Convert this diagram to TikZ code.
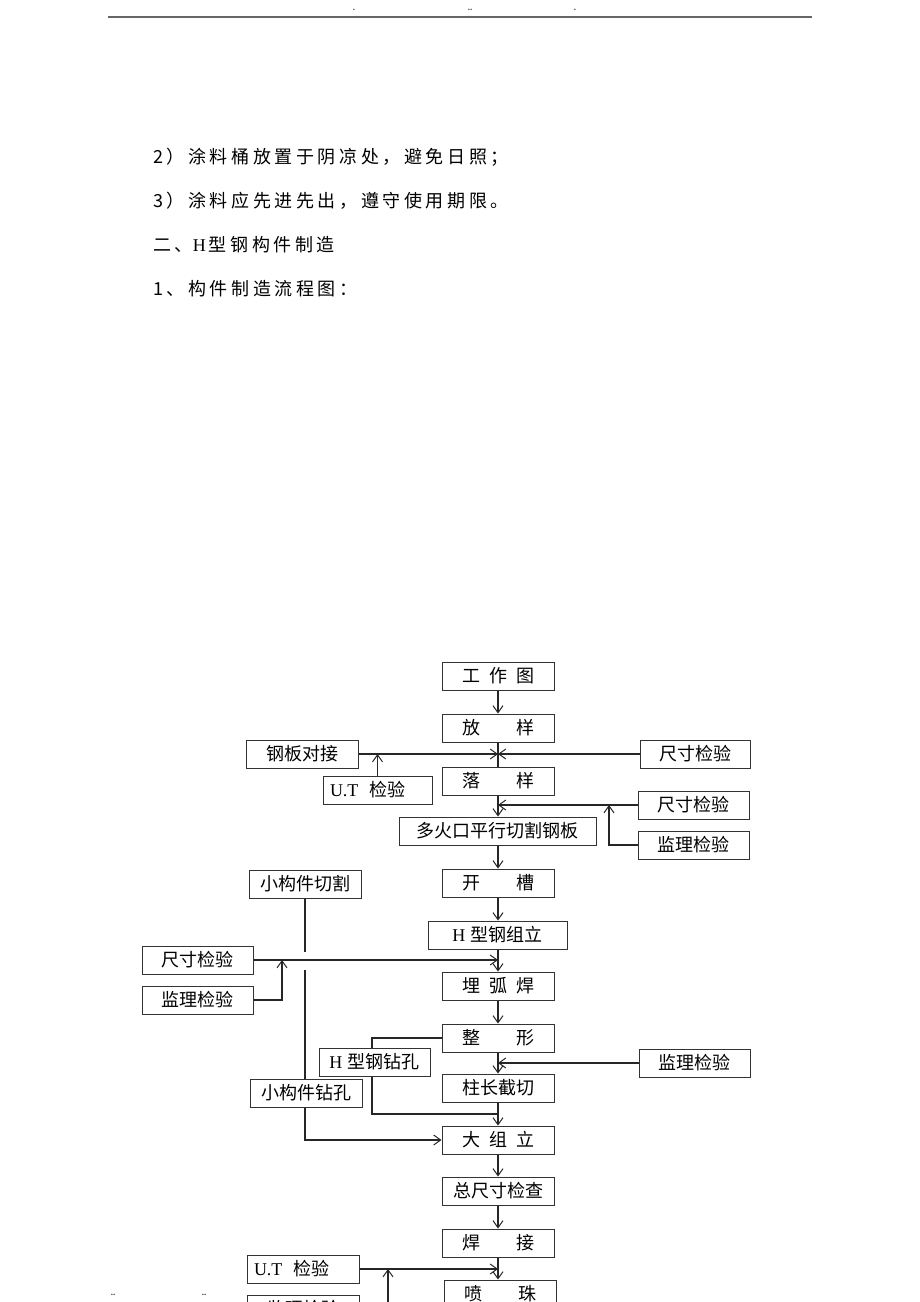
\documentclass[tikz,border=0pt]{standalone}
\usepackage{fontspec}
\setmainfont{Liberation Serif}
\newfontfamily\cjk{Noto Sans CJK SC}
\newfontfamily\cjkls[LetterSpace=20]{Noto Sans CJK SC}
\usetikzlibrary{arrows.meta,backgrounds}
\tikzset{
  box/.style={draw=black!80, line width=1pt, fill=white, inner sep=0pt,
    minimum height=28pt, font=\cjk\fontsize{18}{18}\selectfont},
  leftbox/.style={box, inner xsep=7pt, align=left},
  ln/.style={line width=1.1pt, draw=black!85},
  arr/.style={ln, -{Straight Barb[length=7pt,width=10pt,line width=1pt]}},
  body/.style={anchor=west, inner sep=0pt, font=\cjkls\fontsize{18}{18}\selectfont},
  tiny/.style={inner sep=0pt, font=\rmfamily\bfseries\fontsize{9}{9}\selectfont, text=black!75},
}
\begin{document}
\begin{tikzpicture}[x=1pt,y=-1pt]
\useasboundingbox (0,0) rectangle (920,1302);
\clip (0,0) rectangle (920,1302);

% header
\draw[line width=1.5pt, black!60] (108,17) -- (812,17);
\node[tiny] (d1) at (354,10) {.};
\node[tiny] (d2) at (470,10) {..};
\node[tiny] (d3) at (575,10) {.};
\node[tiny] (d4) at (113,1295) {..};
\node[tiny] (d5) at (204,1295) {..};

% body text
\node[body] (t1) at (153,157) {2）涂料桶放置于阴凉处，避免日照；};
\node[body] (t2) at (153,201) {3）涂料应先进先出，遵守使用期限。};
\node[body] (t3) at (153,245) {二、{\rmfamily H}\hspace{3pt}型钢构件制造};
\node[body] (t4) at (153,289) {1、构件制造流程图：};

% center column
\node[box, minimum width=112pt] (gzt) at (498,676) {工\hspace{0.5em}作\hspace{0.5em}图};
\node[box, minimum width=112pt] (fy) at (498,728) {放\hspace{2em}样};
\node[box, minimum width=112pt] (ly) at (498,781) {落\hspace{2em}样};
\node[box, minimum width=197pt] (dhk) at (497.5,831) {多火口平行切割钢板};
\node[box, minimum width=112pt] (kc) at (498,883) {开\hspace{2em}槽};
\node[box, minimum width=139pt] (hgzl) at (497.5,935) {{\rmfamily H}\hspace{0.3em}型钢组立};
\node[box, minimum width=112pt] (mhh) at (498,986) {埋\hspace{0.5em}弧\hspace{0.5em}焊};
\node[box, minimum width=112pt] (zx) at (498,1038) {整\hspace{2em}形};
\node[box, minimum width=112pt] (zcjq) at (498,1088) {柱长截切};
\node[box, minimum width=112pt] (dzl) at (498,1140) {大\hspace{0.5em}组\hspace{0.5em}立};
\node[box, minimum width=112pt] (zccjc) at (498,1191) {总尺寸检查};
\node[box, minimum width=112pt] (hj) at (498,1243) {焊\hspace{2em}接};
\node[box, minimum width=112pt] (pz) at (500,1294) {喷\hspace{2em}珠};

% side boxes
\node[box, minimum width=112pt] (gbdj) at (302,754) {钢板对接};
\node[box, minimum width=110pt] (ccjy1) at (695,754) {尺寸检验};
\node[leftbox, text width=95pt] (ut1) at (377.5,790) {{\rmfamily U.T}\hspace{0.6em}检验};
\node[box, minimum width=111pt] (ccjy2) at (693.5,805) {尺寸检验};
\node[box, minimum width=111pt] (jljy1) at (693.5,845) {监理检验};
\node[box, minimum width=112pt] (xgjqg) at (305,884) {小构件切割};
\node[box, minimum width=111pt] (ccjy3) at (197.5,960) {尺寸检验};
\node[box, minimum width=111pt] (jljy3) at (197.5,1000) {监理检验};
\node[box, minimum width=111pt] (hgzk) at (374.5,1062) {{\rmfamily H}\hspace{0.3em}型钢钻孔};
\node[box, minimum width=111pt] (jljy2) at (694.5,1063) {监理检验};
\node[box, minimum width=112pt] (xgjzk) at (306,1093) {小构件钻孔};
\node[leftbox, text width=98pt] (ut2) at (303,1269) {{\rmfamily U.T}\hspace{0.6em}检验};
\node[box, minimum width=112pt] (jljy4) at (303,1309) {监理检验};

% junctions
\coordinate (j1) at (498,754);
\coordinate (j2) at (498,805);
\coordinate (j3) at (609,805);
\coordinate (j4) at (498,960);
\coordinate (j5) at (282,960);
\coordinate (h1) at (305,952);
\coordinate (h2) at (305,970);
\coordinate (j6) at (372,1114);
\coordinate (j7) at (498,1114);
\coordinate (j8) at (498,1063);
\coordinate (j9) at (498,1269);
\coordinate (j10) at (388,1269);

\begin{scope}[on background layer]
\fill[white] (0,0) rectangle (920,1302);
\draw[arr] (gzt) -- (fy);
\draw[ln] (fy) -- (ly);
\draw[arr] (gbdj) -- (j1);
\draw[arr] (ccjy1) -- (j1);
\draw[arr] (ut1) -- (ut1 |- j1);
\draw[arr] (ly.south) -- (ly.south |- dhk.north);
\draw[arr] (ccjy2) -- (j2);
\draw[arr] (jljy1.west) -| (j3);
\draw[arr] (kc |- dhk.south) -- (kc.north);
\draw[arr] (kc.south) -- (kc.south |- hgzl.north);
\draw[arr] (mhh |- hgzl.south) -- (mhh.north);
\draw[arr] (ccjy3) -- (j4);
\draw[arr] (jljy3.east) -| (j5);
\draw[ln] (xgjqg.south) -- (h1);
\draw[arr] (h2) |- (dzl.west);
\draw[arr] (mhh) -- (zx);
\draw[ln] (zx.west) -| (j6) -- (j7);
\draw[arr] (zx) -- (zcjq);
\draw[arr] (jljy2) -- (j8);
\draw[arr] (zcjq) -- (dzl);
\draw[arr] (dzl) -- (zccjc);
\draw[arr] (zccjc) -- (hj);
\draw[arr] (hj.south) -- (hj.south |- pz.north);
\draw[arr] (ut2) -- (j9);
\draw[arr] (jljy4.east) -| (j10);
\end{scope}
\end{tikzpicture}
\end{document}
